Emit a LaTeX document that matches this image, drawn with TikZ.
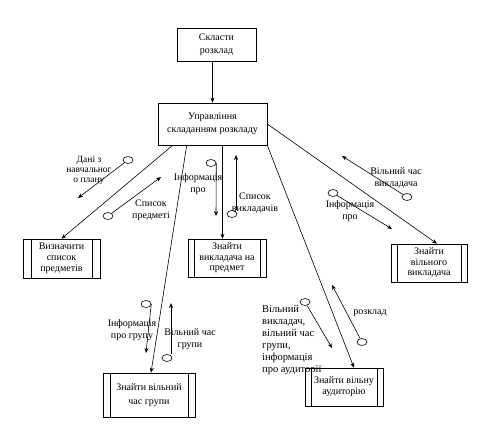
\documentclass[tikz,border=0pt]{standalone}
\usepackage{fontspec}
\setmainfont{Liberation Serif}
\usetikzlibrary{arrows.meta,shapes.geometric}
\tikzset{
  box/.style={draw, line width=0.6pt, inner sep=1pt, align=center, font=\fontsize{10}{13}\selectfont},
  proc/.style={draw, line width=0.6pt, inner sep=1pt, align=center, font=\fontsize{10}{11}\selectfont,
    path picture={
      \draw[line width=0.6pt] ([xshift=#1]path picture bounding box.north west) -- ([xshift=#1]path picture bounding box.south west);
      \draw[line width=0.6pt] ([xshift=-#1]path picture bounding box.north east) -- ([xshift=-#1]path picture bounding box.south east);}},
  proc/.default=6pt,
  conn/.style={line width=0.6pt, -{Stealth[length=5pt,width=4pt]}},
  flow/.style={line width=0.6pt, -{Stealth[length=5pt,width=4pt]}},
  cpl/.style={draw, ellipse, line width=0.6pt, minimum width=10pt, minimum height=7pt, inner sep=0pt},
  lbl/.style={align=center, inner sep=0pt, font=\fontsize{10}{12}\selectfont},
}
\begin{document}
\begin{tikzpicture}[x=1pt,y=-1pt]
\useasboundingbox (0,0) rectangle (491,424);
\fill[white] (0,0) rectangle (491,424);

% boxes
\node[box, minimum width=79pt, minimum height=33pt] (top) at (216.5,44.5) {Скласти\\розклад};
\node[box, minimum width=109pt, minimum height=42pt] (mgr) at (212.5,124) {Управління\\складанням розкладу};
\node[proc=8pt, minimum width=77pt, minimum height=39pt] (lst) at (61.5,258.5) {Визначити\\список\\предметів};
\node[proc, minimum width=78pt, minimum height=38pt, font=\fontsize{10}{10.5}\selectfont] (tch) at (227,258) {Знайти\\викладача на\\предмет};
\node[proc, minimum width=76pt, minimum height=38pt, font=\fontsize{10}{10.5}\selectfont] (ft) at (429,263) {Знайти\\вільного\\викладача};
\node[proc=7pt, minimum width=92pt, minimum height=44pt, font=\fontsize{10}{14}\selectfont] (grp) at (149,395) {Знайти вільний\\час групи};
\node[proc, minimum width=78pt, minimum height=38pt] (aud) at (344,387) {Знайти вільну\\аудиторію};

% connectors
\draw[conn] (top.south -| mgr.north) -- (mgr.north);
\draw[conn] ([xshift=15pt]mgr.south west) -- (lst.north);
\draw[conn] ([xshift=29pt]mgr.south west) -- ([xshift=2pt]grp.north);
\draw[conn] ([xshift=10pt]mgr.south) -- ([xshift=10pt]mgr.south |- tch.north);
\draw[conn] (mgr.south east) -- ([xshift=10pt]aud.north);
\draw[conn] (mgr.east) -- ([xshift=8pt]ft.north);

% couples
\node[cpl] (c1) at (128,160) {};
\coordinate (e1) at (78,198);
\draw[flow] (c1) -- (e1);
\node[cpl] (c2) at (108,216) {};
\coordinate (e2) at (161,177);
\draw[flow] (c2) -- (e2);
\node[cpl] (c3) at (211,163) {};
\coordinate (e3) at (216,216);
\draw[flow] (c3.east) -- (e3);
\node[cpl] (c4) at (232,214) {};
\coordinate (e4) at (236,155);
\draw[flow] ([xshift=4pt]c4.north) -- (e4);
\node[cpl] (c5) at (407,197) {};
\coordinate (e5) at (342,156);
\draw[flow] (c5) -- (e5);
\node[cpl] (c6) at (333,193) {};
\coordinate (e6) at (392,229);
\draw[flow] (c6) -- (e6);
\node[cpl] (c7) at (146,304) {};
\coordinate (e7) at (146,353);
\draw[flow] (c7.east) -- (e7);
\node[cpl] (c8) at (167,358) {};
\coordinate (e8) at (171,303);
\draw[flow] ([xshift=4pt]c8.north) -- (e8);
\node[cpl] (c9) at (305,302) {};
\coordinate (e9) at (332,348);
\draw[flow] (c9) -- (e9);
\node[cpl] (c10) at (362,342) {};
\coordinate (e10) at (332,285);
\draw[flow] (c10) -- (e10);

% labels
\node[lbl, font=\fontsize{9.5}{10}\selectfont] (t1) at (89,170) {Дані з\\навчальног\\о плану};
\node[lbl] (t2) at (151,210) {Список\\предметі};
\node[lbl] (t3) at (198,184) {Інформація\\про};
\node[lbl] (t4) at (255,203) {Список\\викладачів};
\node[lbl] (t5) at (396,178) {Вільний час\\викладача};
\node[lbl] (t6) at (350,211) {Інформація\\про};
\node[lbl] (t7) at (132,330) {Інформація\\про групу};
\node[lbl] (t8) at (190,339) {Вільний час\\групи};
\node[lbl, align=left, anchor=north west, font=\fontsize{10.5}{12}\selectfont] (t9) at (262,305) {Вільний\\викладач,\\вільний час\\групи,\\інформація\\про аудиторії};
\node[lbl] (t10) at (370,313) {розклад};
\end{tikzpicture}
\end{document}
